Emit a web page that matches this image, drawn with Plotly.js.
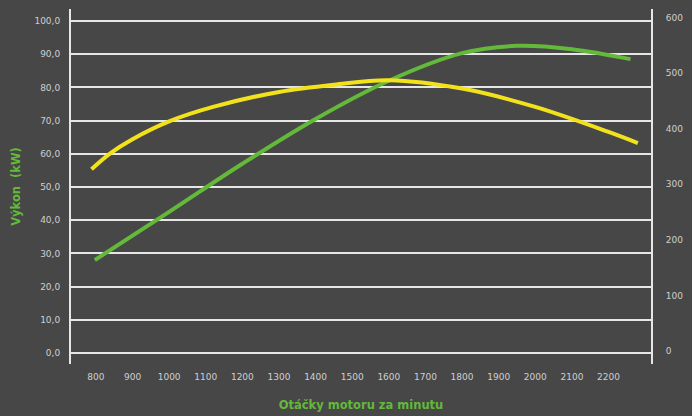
<!DOCTYPE html>
<html>
<head>
<meta charset="utf-8">
<script src="https://cdn.plot.ly/plotly-3.0.1.min.js"></script>
<style>html,body{margin:0;padding:0;background:#474747;}#chart{width:692px;height:416px;}</style>
</head>
<body>
<div id="chart"></div>
<script>
// Power (kW) vs engine speed
const powerRpm = [797, 1000, 1200, 1400, 1600, 1800, 1950, 2100, 2260];
const powerKw  = [28, 42.5, 57, 70.5, 82, 90.3, 92.5, 91.5, 88.5];
// Torque (Nm) vs engine speed
const torqueRpm = [788, 840, 900, 1000, 1120, 1300, 1450, 1600, 1800, 2000, 2200, 2280];
const torqueNm  = [327, 356, 381, 413, 439, 466, 479, 487, 472, 439, 394, 374];

const xTicks = [800, 900, 1000, 1100, 1200, 1300, 1400, 1500, 1600, 1700, 1800, 1900, 2000, 2100, 2200];
const leftTicks = [0, 10, 20, 30, 40, 50, 60, 70, 80, 90, 100];
const leftTickText = ["0,0", "10,0", "20,0", "30,0", "40,0", "50,0", "60,0", "70,0", "80,0", "90,0", "100,0"];
const rightTicks = [0, 100, 200, 300, 400, 500, 600];

const tickFont = {family: "DejaVu Sans, sans-serif", size: 9, color: "#cfcfcf"};
const green = "#63b93a";
const yellow = "#f2e21c";

const traces = [
  {x: torqueRpm, y: torqueNm, yaxis: "y2", mode: "lines",
   line: {color: yellow, width: 4, shape: "spline", smoothing: 1}, hoverinfo: "skip"},
  {x: powerRpm, y: powerKw, mode: "lines",
   line: {color: green, width: 4, shape: "spline", smoothing: 1}, hoverinfo: "skip"}
];

const layout = {
  width: 692, height: 416,
  paper_bgcolor: "#474747", plot_bgcolor: "#474747",
  margin: {l: 71, r: 41, t: 9, b: 52},
  showlegend: false,
  xaxis: {
    range: [732, 2316], tickvals: xTicks, ticktext: xTicks.map(String),
    showgrid: false, zeroline: false, showline: false, ticks: "",
    tickfont: tickFont, ticklabelstandoff: 6,
    title: {text: "Otáčky motoru za minutu", standoff: 19,
            font: {family: "DejaVu Sans, sans-serif", size: 11.5, color: green, weight: "bold"}}
  },
  yaxis: {
    range: [-3.3, 103.6], tickvals: leftTicks, ticktext: leftTickText,
    showgrid: true, gridcolor: "#e6e6e6", gridwidth: 2, zeroline: false,
    showline: true, linecolor: "#e6e6e6", linewidth: 2, ticks: "",
    tickfont: tickFont, ticklabelstandoff: 7,
    title: {text: "Výkon  (kW)", standoff: 11,
            font: {family: "DejaVu Sans, sans-serif", size: 11.5, color: green, weight: "bold"}}
  },
  yaxis2: {
    overlaying: "y", side: "right", range: [-23, 615], tickvals: rightTicks,
    showgrid: false, zeroline: false, showline: true, linecolor: "#e6e6e6", linewidth: 2,
    ticks: "", tickfont: tickFont, ticklabelstandoff: 11
  }
};

Plotly.newPlot("chart", traces, layout, {displayModeBar: false, staticPlot: true});
</script>
</body>
</html>
